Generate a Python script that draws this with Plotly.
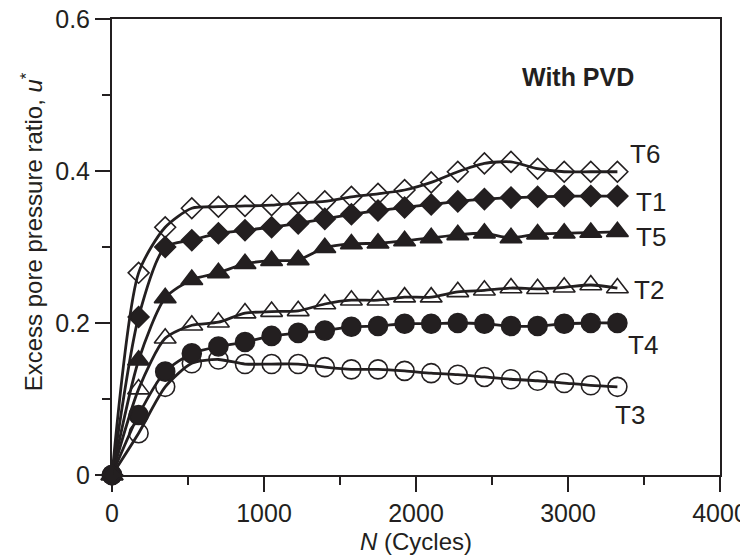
import plotly.graph_objects as go

cycles = [0, 175, 350, 525, 700, 875, 1050, 1225, 1400, 1575, 1750, 1925,
          2100, 2275, 2450, 2625, 2800, 2975, 3150, 3325]

T6 = [0, 0.266, 0.326, 0.351, 0.353, 0.354, 0.355, 0.358, 0.360, 0.366,
      0.370, 0.375, 0.385, 0.399, 0.410, 0.412, 0.403, 0.399, 0.399, 0.399]
T1 = [0, 0.208, 0.300, 0.309, 0.318, 0.322, 0.326, 0.331, 0.337, 0.343,
      0.348, 0.352, 0.356, 0.360, 0.363, 0.365, 0.366, 0.367, 0.367, 0.367]
T5 = [0, 0.151, 0.233, 0.257, 0.266, 0.278, 0.282, 0.283, 0.299, 0.304,
      0.305, 0.308, 0.312, 0.316, 0.318, 0.312, 0.317, 0.318, 0.319, 0.320]
T2 = [0, 0.113, 0.180, 0.197, 0.201, 0.213, 0.215, 0.216, 0.225, 0.230,
      0.230, 0.234, 0.234, 0.241, 0.243, 0.246, 0.245, 0.247, 0.250, 0.246]
T4 = [0, 0.079, 0.136, 0.160, 0.169, 0.175, 0.183, 0.187, 0.190, 0.195,
      0.196, 0.199, 0.199, 0.200, 0.199, 0.196, 0.196, 0.199, 0.200, 0.200]
T3 = [0, 0.055, 0.116, 0.147, 0.152, 0.146, 0.146, 0.146, 0.142, 0.139,
      0.139, 0.137, 0.134, 0.132, 0.129, 0.126, 0.124, 0.121, 0.118, 0.116]

series_names = ["T3", "T4", "T2", "T5", "T1", "T6"]
series_values = [T3, T4, T2, T5, T1, T6]
series_symbols = ["circle-open", "circle", "triangle-up-open", "triangle-up", "diamond", "diamond-open"]
series_sizes = [19, 19, 19, 19, 16, 16]

label_x = [3408, 3493, 3533, 3546, 3546, 3507]
label_y = [0.079, 0.171, 0.243, 0.313, 0.359, 0.422]

INK = "#231f20"
FONT = "Liberation Sans, Arial, sans-serif"

fig = go.Figure()
for name, vals, sym, sz in zip(series_names, series_values, series_symbols, series_sizes):
    fig.add_trace(go.Scatter(
        x=cycles, y=vals, name=name, mode="lines+markers",
        line=dict(color=INK, width=2.8, shape="spline", smoothing=0.7),
        marker=dict(symbol=sym, size=sz, color=INK,
                    line=dict(color=INK, width=1.6)),
        showlegend=False, cliponaxis=False,
    ))

for name, lx, ly in zip(series_names, label_x, label_y):
    fig.add_annotation(x=lx, y=ly, text=name, showarrow=False,
                       font=dict(family=FONT, size=26, color=INK),
                       xanchor="center", yanchor="middle")

fig.add_annotation(x=3066, y=0.524, text="<b>With PVD</b>", showarrow=False,
                   font=dict(family=FONT, size=25, color=INK),
                   xanchor="center", yanchor="middle")

# axis titles as paper-anchored annotations
fig.add_annotation(xref="paper", yref="paper", x=0.5, y=-0.145,
                   text="<i>N</i> (Cycles)", showarrow=False,
                   font=dict(family=FONT, size=24, color=INK),
                   xanchor="center", yanchor="middle")
fig.add_annotation(xref="paper", yref="paper", x=-0.131, y=0.533,
                   text="Excess pore pressure ratio, <i>u</i><sup>*</sup>",
                   showarrow=False, textangle=-90,
                   font=dict(family=FONT, size=24, color=INK),
                   xanchor="center", yanchor="middle")

axis_common = dict(
    showline=True, linecolor=INK, linewidth=2, mirror=True,
    ticks="outside", ticklen=15, tickwidth=2, tickcolor=INK,
    showgrid=False, zeroline=False, automargin=False,
    ticklabeloverflow="allow",
    tickfont=dict(family=FONT, size=25, color=INK),
)

# the page body adds an 8px offset, so the figure is 740x550 drawn at (8, 8)
fig.update_layout(
    width=740, height=550,
    margin=dict(l=104, r=28, t=11, b=83),
    paper_bgcolor="white", plot_bgcolor="white",
    font=dict(family=FONT, color=INK),
    xaxis=dict(range=[0, 4000], tickvals=[0, 1000, 2000, 3000, 4000],
               ticktext=["0", "1000", "2000", "3000", "4000"],
               minor=dict(ticks="outside", ticklen=8, tickwidth=2, tickcolor=INK, dtick=500, tick0=0),
               **axis_common),
    yaxis=dict(range=[0, 0.6], tickvals=[0, 0.2, 0.4, 0.6],
               ticktext=["0", "0.2", "0.4", "0.6"],
               minor=dict(ticks="outside", ticklen=8, tickwidth=2, tickcolor=INK, dtick=0.1, tick0=0),
               **axis_common),
)

fig.write_html("out.html")
